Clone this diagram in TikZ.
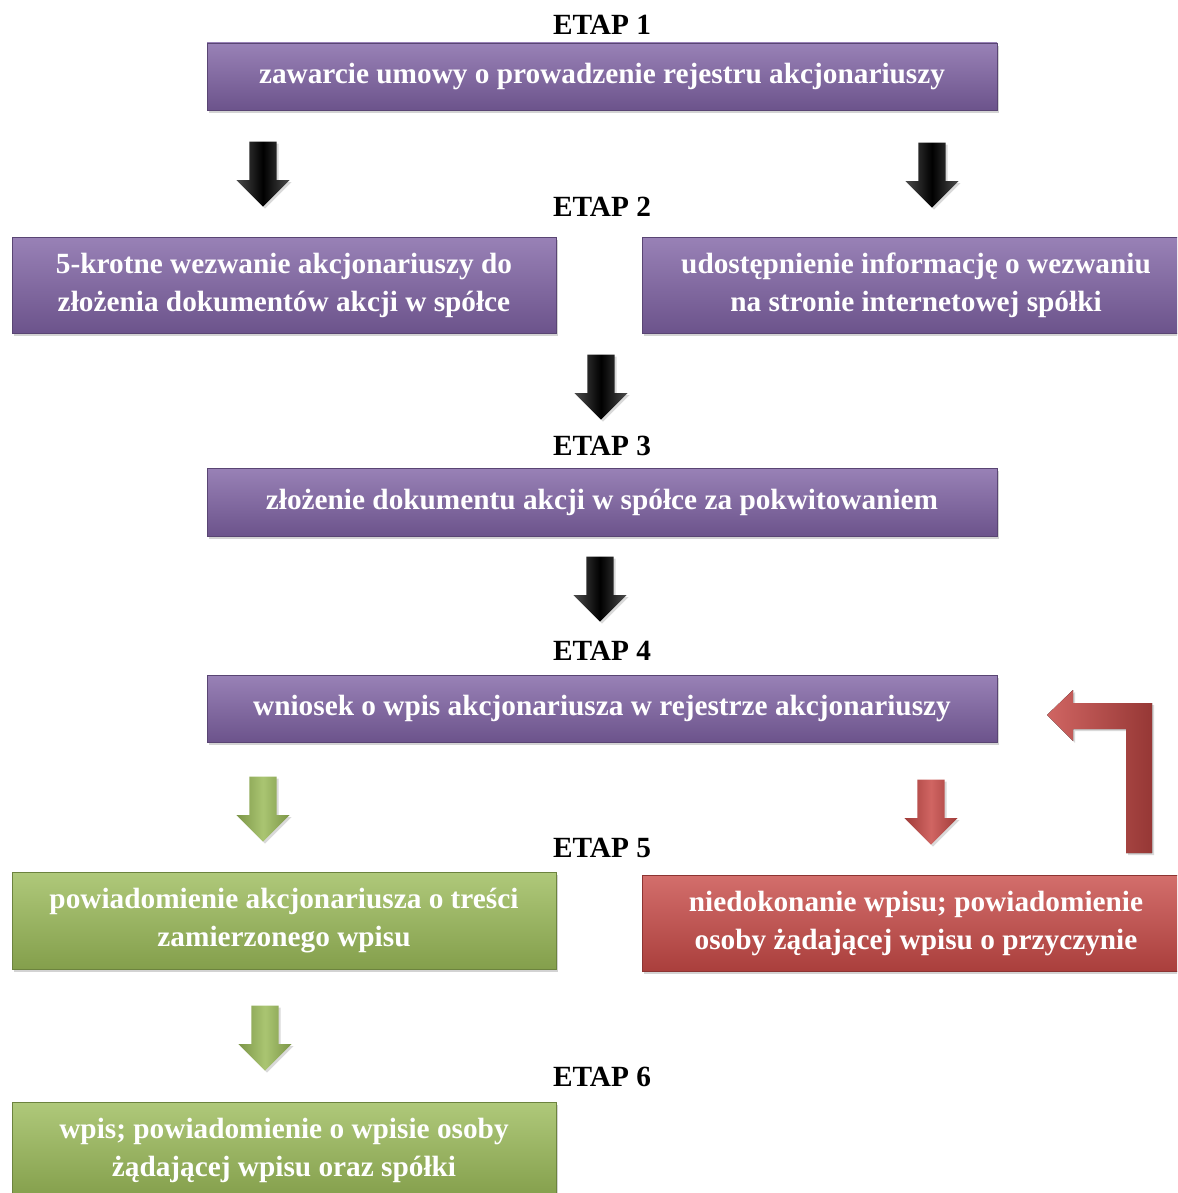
\documentclass[tikz,border=0pt]{standalone}
\usepackage{fontspec}
\setmainfont{Liberation Serif}
\usepackage{tikz}
\usetikzlibrary{positioning, calc}
\usetikzlibrary{shapes.arrows, shadows}
\definecolor{purplemid}{HTML}{7F62A4}
\definecolor{greenmid}{HTML}{9BBB59}
\definecolor{redmid}{HTML}{C84A47}
\tikzstyle{stagebox}=[rectangle, inner sep=0pt, align=center, text=white,
  font=\fontsize{29.3}{38}\selectfont\bfseries,
  drop shadow={opacity=0.35, shadow xshift=2pt, shadow yshift=-3pt}]
\tikzstyle{purplebox}=[stagebox, top color=purplemid!80!white, bottom color=purplemid!85!black, draw=purplemid!70!black]
\tikzstyle{greenbox}=[stagebox, top color=greenmid!80!white, bottom color=greenmid!85!black, draw=greenmid!70!black]
\tikzstyle{redbox}=[stagebox, top color=redmid!80!white, bottom color=redmid!85!black, draw=redmid!70!black]
\tikzstyle{etaplabel}=[font=\fontsize{29.3}{32}\selectfont\bfseries, inner sep=0pt]
\tikzstyle{blockarrow}=[single arrow, rotate=-90, anchor=tip, inner sep=0pt, text height=27pt, text depth=0pt,
  minimum height=65pt, single arrow head extend=13pt, single arrow tip angle=90,
  drop shadow={opacity=0.3, shadow xshift=2pt, shadow yshift=-2pt}]

\begin{document}
\begin{tikzpicture}[x=1pt, y=-1pt]
    \useasboundingbox (0,0) rectangle (1177,1193);
    \clip (0,0) rectangle (1177,1193);

    % etapy
    \node[etaplabel] (e1) at (602,25) {ETAP 1};
    \node[etaplabel] (e2) at (602,207) {ETAP 2};
    \node[etaplabel] (e3) at (602,446) {ETAP 3};
    \node[etaplabel] (e4) at (602,651) {ETAP 4};
    \node[etaplabel] (e5) at (602,848) {ETAP 5};
    \node[etaplabel] (e6) at (602,1077) {ETAP 6};

    % prostokaty
    \node[purplebox, minimum width=790pt, minimum height=67pt] (s1) at (602,76.5)
        {zawarcie umowy o prowadzenie rejestru akcjonariuszy};
    \node[purplebox, minimum width=544pt, minimum height=96pt] (s2a) at (284,285)
        {5-krotne wezwanie akcjonariuszy do\\złożenia dokumentów akcji w spółce};
    \node[purplebox, minimum width=548pt, minimum height=96pt] (s2b) at (916,285)
        {udostępnienie informację o wezwaniu\\na stronie internetowej spółki};
    \node[purplebox, minimum width=790pt, minimum height=68pt] (s3) at (602,502)
        {złożenie dokumentu akcji w spółce za pokwitowaniem};
    \node[purplebox, minimum width=790pt, minimum height=67pt] (s4) at (602,708.5)
        {wniosek o wpis akcjonariusza w rejestrze akcjonariuszy};
    \node[greenbox, minimum width=544pt, minimum height=97pt] (s5a) at (284,920.5)
        {powiadomienie akcjonariusza o treści\\zamierzonego wpisu};
    \node[redbox, minimum width=548pt, minimum height=96pt] (s5b) at (916,923)
        {niedokonanie wpisu; powiadomienie\\osoby żądającej wpisu o przyczynie};
    \node[greenbox, minimum width=544pt, minimum height=96pt] (s6) at (284,1150)
        {wpis; powiadomienie o wpisie osoby\\żądającej wpisu oraz spółki};

    % strzalki
    \node[blockarrow, left color=black!70, right color=black!70, middle color=black] (a1) at (263,207) {};
    \node[blockarrow, left color=black!70, right color=black!70, middle color=black] (a2) at (932,208) {};
    \node[blockarrow, left color=black!70, right color=black!70, middle color=black] (a3) at (601,420) {};
    \node[blockarrow, left color=black!70, right color=black!70, middle color=black] (a4) at (600,622) {};
    \node[blockarrow, left color=greenmid!80!black, right color=greenmid!80!black, middle color=greenmid!85!white] (a5) at (263,842) {};
    \node[blockarrow, left color=redmid!80!black, right color=redmid!80!black, middle color=redmid!85!white] (a6) at (931,845) {};
    \node[blockarrow, left color=greenmid!80!black, right color=greenmid!80!black, middle color=greenmid!85!white] (a7) at (265,1071) {};

    % strzalka powrotna
    \fill[left color=redmid!85!white, right color=redmid!75!black,
        drop shadow={opacity=0.3, shadow xshift=2pt, shadow yshift=-2pt}]
        (1047,715) -- (1073,690) -- (1073,703) -- (1152,703) -- (1152,853)
        -- (1126,853) -- (1126,729) -- (1073,729) -- (1073,741) -- cycle;
\end{tikzpicture}
\end{document}
